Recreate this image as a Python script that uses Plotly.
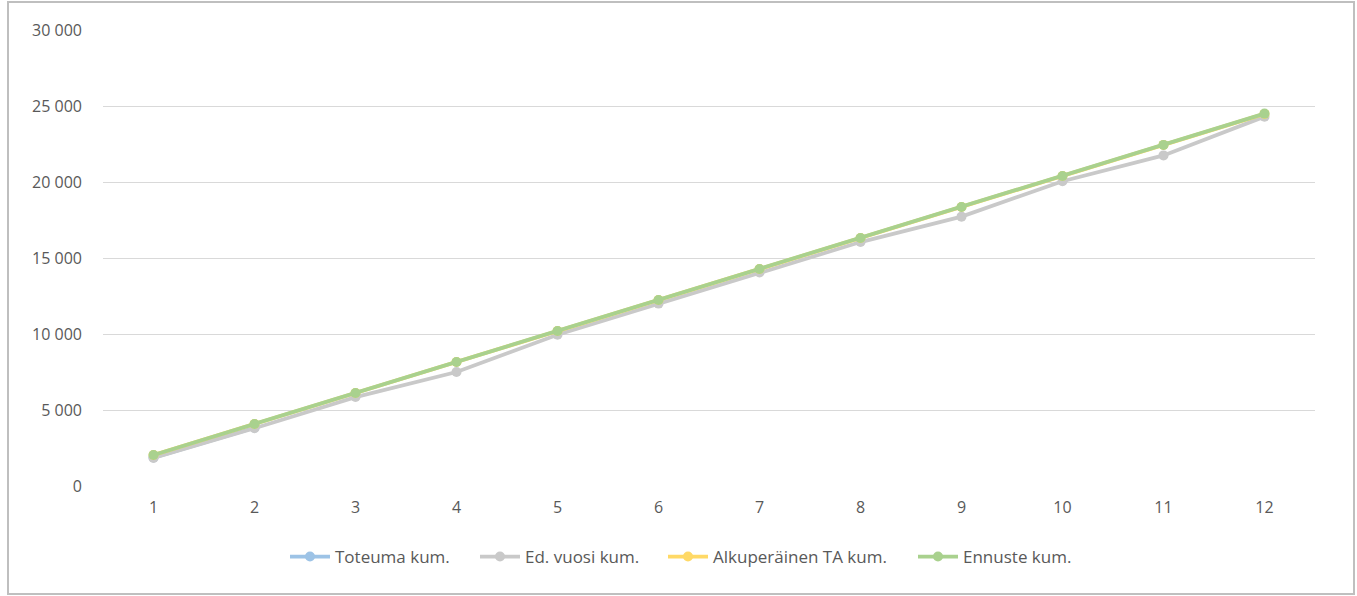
import plotly.graph_objects as go

months = [str(i) for i in range(1, 13)]
toteuma = [1870, 3830, None, None, None, None, None, None, None, None, None, None]
ed_vuosi = [1850, 3800, 5850, 7500, 9950, 12000, 14050, 16050, 17720, 20050, 21750, 24300]
alkuperainen = [2040, 4080, 6120, 8160, 10200, 12240, 14280, 16320, 18360, 20400, 22440, 24480]
ennuste = [2040, 4080, 6120, 8160, 10200, 12240, 14280, 16320, 18360, 20400, 22440, 24500]

series = [
    ("Toteuma kum.", toteuma, "#9DC3E6"),
    ("Ed. vuosi kum.", ed_vuosi, "#C9C9C9"),
    ("Alkuperäinen TA kum.", alkuperainen, "#FFD966"),
    ("Ennuste kum.", ennuste, "#A9D18E"),
]
legend_starts = [290, 480, 668, 918]  # pixel x of each legend symbol

W, H = 1357, 596
l, r, t, b = 103, 42, 30, 110
pw, ph = W - l - r, H - t - b

def px(x):
    return (x - l) / pw

def py(y):
    return (H - b - y) / ph

fig = go.Figure()
legend_layouts = {}
for i, (name, vals, col) in enumerate(series):
    key = "legend" if i == 0 else f"legend{i+1}"
    fig.add_trace(go.Scatter(
        x=months, y=vals, name=name, mode="lines+markers",
        line=dict(color=col, width=3.8), marker=dict(color=col, size=10),
        connectgaps=False, legend=key,
    ))
    legend_layouts[key] = dict(
        orientation="h", x=px(legend_starts[i] - 5), xanchor="left",
        y=py(557), yanchor="middle", bgcolor="rgba(0,0,0,0)", borderwidth=0,
        itemwidth=40,
        font=dict(family="Open Sans, Noto Sans, sans-serif", size=17, color="#595959"),
    )

fig.update_layout(
    width=W, height=H,
    margin=dict(l=l, r=r, t=t, b=b),
    paper_bgcolor="white", plot_bgcolor="white",
    font=dict(family="Open Sans, Noto Sans, sans-serif", size=16, color="#595959"),
    separators=", ",
    showlegend=True,
    xaxis=dict(type="category", range=[-0.5, 11.5], showgrid=False, zeroline=False,
               showline=False, ticks="", ticklabelstandoff=10,
               tickfont=dict(size=16, color="#595959")),
    yaxis=dict(range=[0, 30000], dtick=5000, tickformat=",d", showgrid=True,
               gridcolor="#D9D9D9", gridwidth=1, zeroline=False, showline=False,
               ticks="", ticklabelstandoff=20, tickfont=dict(size=16, color="#595959")),
    shapes=[dict(type="rect", xref="paper", yref="paper",
                 x0=px(8), x1=px(1354), y0=py(594), y1=py(2),
                 line=dict(color="#BFBFBF", width=2), fillcolor="rgba(0,0,0,0)", layer="below")],
    **legend_layouts,
)

fig.write_html("out.html", config={"displayModeBar": False},
               post_script="document.body.style.margin='0';document.body.style.overflow='hidden';")
